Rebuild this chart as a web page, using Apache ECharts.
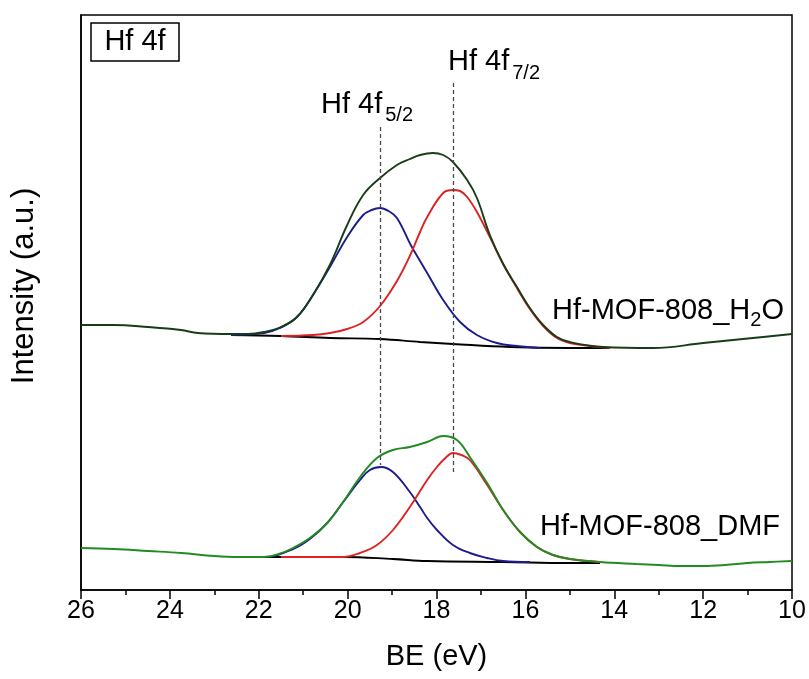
<!DOCTYPE html>
<html><head><meta charset="utf-8">
<script src="https://cdn.jsdelivr.net/npm/echarts@6/dist/echarts.min.js"></script>
<style>html,body{margin:0;padding:0;background:#fff}#c{width:809px;height:679px}</style>
</head><body><div id="c"></div>
<script>
const FONT = '"Liberation Sans", Arial, sans-serif';

// ---- Hf-MOF-808_H2O (upper spectrum) ----
const h2oTotalBE = [26.0, 25.26, 24.49, 23.75, 23.37, 22.62, 22.24, 21.88, 21.5, 21.14, 20.78, 20.4, 20.01, 19.65, 19.27, 18.89, 18.6, 18.37, 18.08, 17.85, 17.63, 17.31, 17.09, 16.8, 16.5, 16.19, 15.9, 15.6, 15.29, 15.0, 14.25, 13.13, 12.0, 10.88, 10.0];
const h2oTotal   = [265, 265, 263, 260, 257, 256, 256, 258, 263, 273, 295, 325, 365, 395, 412, 425, 431, 435, 437, 435, 428, 410, 392, 355, 326, 303, 282, 265, 253, 248, 243, 242, 247, 252, 256];
const h2o52BE = [22.62, 21.88, 21.52, 21.14, 20.78, 20.4, 20.01, 19.65, 19.46, 19.27, 19.08, 18.89, 18.58, 18.37, 18.21, 17.85, 17.47, 17.09, 16.64, 16.19, 15.67];
const h2o52   = [255, 257, 262, 273, 295, 323, 353, 375, 380, 382, 379, 372, 345, 329, 317, 290, 268, 255, 247, 244, 242];
const h2o72BE = [21.5, 20.78, 20.4, 20.01, 19.65, 19.27, 18.89, 18.6, 18.37, 18.21, 17.85, 17.63, 17.47, 17.31, 17.09, 16.8, 16.5, 16.19, 15.9, 15.6, 15.29, 15.0, 14.55, 14.1];
const h2o72   = [254, 255, 257, 261, 268, 284, 309, 334, 358, 373, 397, 400, 399, 393, 378, 353, 326, 302, 281, 264, 252, 247, 244, 242];
const h2oBgBE = [22.62, 21.5, 20.4, 19.27, 18.37, 17.63, 16.35, 15.0, 14.1];
const h2oBg   = [255, 254, 252, 251, 248, 246, 243, 242, 242];

// ---- Hf-MOF-808_DMF (lower spectrum) ----
const dmfTotalBE = [26.0, 25.26, 24.49, 23.75, 23.0, 22.47, 21.88, 21.55, 21.23, 20.85, 20.46, 20.1, 19.72, 19.34, 18.98, 18.6, 18.21, 17.85, 17.54, 17.25, 16.86, 16.5, 16.12, 15.74, 15.38, 15.0, 14.32, 13.5, 13.0, 12.5, 12.0, 11.5, 11.0, 10.5, 10.0];
const dmfTotal   = [42, 41, 39, 37, 34, 33, 33, 36, 42, 52, 67, 88, 113, 132, 140, 143, 148, 154, 150, 133, 107, 80, 58, 43, 35, 31, 28, 26, 25, 24, 24, 25, 27, 28, 29];
const dmf52BE = [22.47, 21.88, 21.23, 20.85, 20.46, 20.1, 19.72, 19.5, 19.25, 18.98, 18.6, 18.37, 18.21, 17.99, 17.63, 17.25, 16.86, 16.5, 15.9];
const dmf52   = [33, 33, 41, 51, 67, 88, 110, 120, 123, 118, 98, 83, 72, 60, 45, 37, 32, 29, 28];
const dmf72BE = [21.5, 20.1, 19.72, 19.34, 18.98, 18.6, 18.21, 17.99, 17.8, 17.63, 17.44, 17.25, 16.86, 16.5, 16.12, 15.74, 15.38, 15.0, 14.32];
const dmf72   = [33, 33, 37, 45, 60, 83, 110, 123, 132, 137, 135, 130, 105, 80, 58, 43, 35, 31, 28];
const dmfBgBE = [22.47, 20.1, 18.98, 18.21, 16.5, 15.0, 14.32];
const dmfBg   = [33, 33, 31, 29, 28, 27, 27];

// ---- peak guide lines ----
const peakBE     = [19.27, 17.63];
const peakTop    = [463, 507];
const peakBottom = [125, 115];

const xMin = 10, xMax = 26, xStep = 2;

function pairs(xs, ys) { return xs.map((x, i) => [x, ys[i]]); }
const mctx = document.createElement('canvas').getContext('2d');
function tw(t, size) { mctx.font = size + 'px ' + FONT; return mctx.measureText(t).width; }

function line(name, xs, ys, color, extra) {
  return Object.assign({
    name, type: 'line', data: pairs(xs, ys), showSymbol: false, smooth: 0.4,
    lineStyle: { color, width: 1.9 }, itemStyle: { color }, silent: true
  }, extra || {});
}

const BIG = 29, SUB = 20;
const graphics = [
  { type: 'rect', shape: { x: 91, y: 23, width: 88, height: 38 }, style: { fill: '#fff', stroke: '#000', lineWidth: 1.5 }, z: 100 },
  { type: 'text', x: 135, y: 42, style: { text: 'Hf 4f', fontSize: BIG, fontFamily: FONT, fill: '#000', align: 'center', verticalAlign: 'middle' }, z: 101 },
  { type: 'text', x: 24, y: 286, rotation: Math.PI / 2, style: { text: 'Intensity (a.u.)', fontSize: 31, fontFamily: FONT, fill: '#000', align: 'center', verticalAlign: 'middle' }, z: 101 }
];
// Hf 4f5/2 label
const l1x = 321;
graphics.push({ type: 'text', x: l1x, y: 105, style: { text: 'Hf 4f', fontSize: BIG, fontFamily: FONT, fill: '#000', align: 'left', verticalAlign: 'middle' }, z: 101 });
graphics.push({ type: 'text', x: l1x + tw('Hf 4f', BIG) + 3, y: 115, style: { text: '5/2', fontSize: SUB, fontFamily: FONT, fill: '#000', align: 'left', verticalAlign: 'middle' }, z: 101 });
// Hf 4f7/2 label
const l2x = 448;
graphics.push({ type: 'text', x: l2x, y: 62, style: { text: 'Hf 4f', fontSize: BIG, fontFamily: FONT, fill: '#000', align: 'left', verticalAlign: 'middle' }, z: 101 });
graphics.push({ type: 'text', x: l2x + tw('Hf 4f', BIG) + 3, y: 73, style: { text: '7/2', fontSize: SUB, fontFamily: FONT, fill: '#000', align: 'left', verticalAlign: 'middle' }, z: 101 });
// H2O label
const pA = 'Hf-MOF-808_H', pB = '2', pC = 'O';
const wA = tw(pA, BIG), wB = tw(pB, SUB), wC = tw(pC, BIG);
const hx = 668 - (wA + wB + wC) / 2;
graphics.push({ type: 'text', x: hx, y: 311, style: { text: pA, fontSize: BIG, fontFamily: FONT, fill: '#000', align: 'left', verticalAlign: 'middle' }, z: 101 });
graphics.push({ type: 'text', x: hx + wA, y: 320, style: { text: pB, fontSize: SUB, fontFamily: FONT, fill: '#000', align: 'left', verticalAlign: 'middle' }, z: 101 });
graphics.push({ type: 'text', x: hx + wA + wB, y: 311, style: { text: pC, fontSize: BIG, fontFamily: FONT, fill: '#000', align: 'left', verticalAlign: 'middle' }, z: 101 });
// DMF label
graphics.push({ type: 'text', x: 660, y: 527, style: { text: 'Hf-MOF-808_DMF', fontSize: BIG, fontFamily: FONT, fill: '#000', align: 'center', verticalAlign: 'middle' }, z: 101 });

const chart = echarts.init(document.getElementById('c'), null, { renderer: 'canvas' });
chart.setOption({
  animation: false,
  backgroundColor: '#fff',
  grid: { left: 81, right: 17, top: 15, bottom: 89, show: true, borderColor: '#000', borderWidth: 1.5, backgroundColor: 'transparent' },
  xAxis: {
    type: 'value', min: xMin, max: xMax, interval: xStep, inverse: true,
    name: 'BE (eV)', nameLocation: 'middle', nameGap: 52,
    nameTextStyle: { fontSize: 29, fontFamily: FONT, color: '#000' },
    axisLine: { show: true, lineStyle: { color: '#000', width: 1.5 } },
    axisTick: { show: true, inside: false, length: 9, lineStyle: { color: '#000', width: 1.5 } },
    minorTick: { show: true, splitNumber: 2, length: 5, lineStyle: { color: '#000', width: 1.5 } },
    axisLabel: { fontSize: 25, fontFamily: FONT, color: '#000', margin: 9 },
    splitLine: { show: false }, minorSplitLine: { show: false }
  },
  yAxis: {
    type: 'value', min: 0, max: 575,
    axisLine: { show: true, lineStyle: { color: '#000', width: 1.5 } },
    axisTick: { show: false }, axisLabel: { show: false }, splitLine: { show: false }
  },
  series: [
    line('H2O background', h2oBgBE, h2oBg, '#000000', {
      markLine: {
        silent: true, symbol: ['none', 'none'], label: { show: false },
        lineStyle: { type: [4, 3], color: '#4a4a4a', width: 1.3 },
        data: peakBE.map((b, i) => [{ coord: [b, peakTop[i]] }, { coord: [b, peakBottom[i]] }])
      }
    }),
    line('DMF background', dmfBgBE, dmfBg, '#000000'),
    line('H2O 4f5/2', h2o52BE, h2o52, '#1c1c8c'),
    line('H2O 4f7/2', h2o72BE, h2o72, '#dd2222'),
    line('DMF 4f5/2', dmf52BE, dmf52, '#1c1c8c'),
    line('DMF 4f7/2', dmf72BE, dmf72, '#dd2222'),
    line('Hf-MOF-808_H2O', h2oTotalBE, h2oTotal, '#183c18'),
    line('Hf-MOF-808_DMF', dmfTotalBE, dmfTotal, '#228b22')
  ],
  graphic: graphics
});
</script>
</body></html>
